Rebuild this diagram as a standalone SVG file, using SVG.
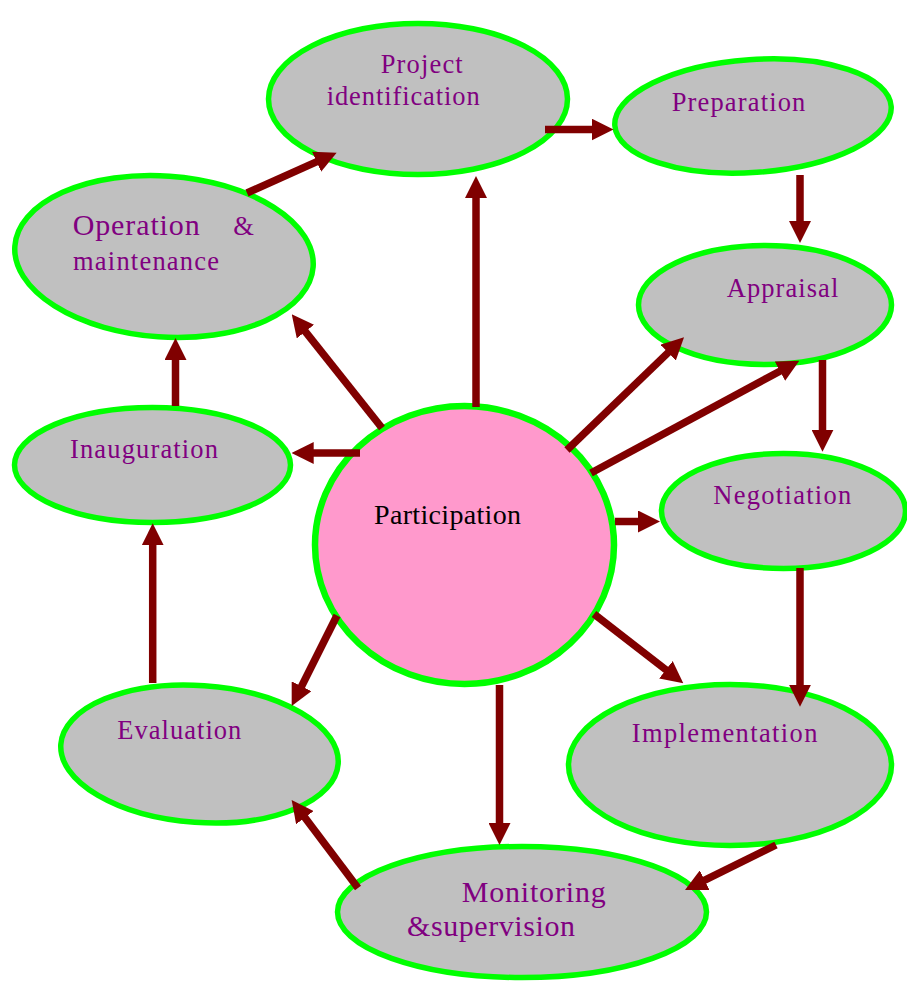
<svg xmlns="http://www.w3.org/2000/svg" width="907" height="984" viewBox="0 0 907 984">
<style>
.node{fill:#C0C0C0;stroke:#00FF00;stroke-width:5.5}
.hub{fill:#FF99CC;stroke:#00FF00;stroke-width:6.5}
.lbl{font-family:'Liberation Serif','DejaVu Serif','Times New Roman',serif;font-size:26.5px;fill:#800080}
.big{font-size:30px}
.hubl{font-family:'Liberation Serif','DejaVu Serif','Times New Roman',serif;font-size:28px;fill:#000000}
.arr{stroke:#800000;stroke-width:7.5;fill:none;marker-end:url(#ah)}
</style>
<defs>
<marker id="ah" markerUnits="userSpaceOnUse" markerWidth="22" markerHeight="22" viewBox="0 0 22 22" refX="1" refY="11" orient="auto">
<path d="M0,0 L22,11 L0,22 z" fill="#800000"/>
</marker>
</defs>
<rect width="907" height="984" fill="#FFFFFF"/>
<g id="project-identification">
<ellipse class="node" cx="418" cy="99" rx="149.5" ry="75.5"/>
<text class="lbl" x="380.7" y="73.3" textLength="82" lengthAdjust="spacing">Project</text>
<text class="lbl" x="326.7" y="105" textLength="153" lengthAdjust="spacing">identification</text>
</g>
<g id="preparation">
<ellipse class="node" cx="753" cy="116" rx="138.5" ry="56.5" transform="rotate(-4 753 116)"/>
<text class="lbl" x="671.7" y="111" textLength="133.6" lengthAdjust="spacing">Preparation</text>
</g>
<g id="operation-maintenance">
<ellipse class="node" cx="164" cy="256.5" rx="149.5" ry="80.5" transform="rotate(4 164 256.5)"/>
<text class="lbl big" x="72.7" y="235" textLength="127" lengthAdjust="spacing">Operation</text>
<text class="lbl" x="233.3" y="235">&amp;</text>
<text class="lbl" x="73" y="270" textLength="146" lengthAdjust="spacing">maintenance</text>
</g>
<g id="appraisal">
<ellipse class="node" cx="765" cy="305" rx="126.5" ry="59.5"/>
<text class="lbl" x="726.7" y="296.7" textLength="111.6" lengthAdjust="spacing">Appraisal</text>
</g>
<g id="inauguration">
<ellipse class="node" cx="152.5" cy="465" rx="138" ry="57.5"/>
<text class="lbl" x="70" y="458.3" textLength="148" lengthAdjust="spacing">Inauguration</text>
</g>
<g id="participation">
<ellipse class="hub" cx="464.5" cy="545" rx="149.5" ry="139"/>
<text class="hubl" x="374" y="524.3" textLength="147" lengthAdjust="spacing">Participation</text>
</g>
<g id="negotiation">
<ellipse class="node" cx="783.5" cy="511" rx="122" ry="57.5"/>
<text class="lbl" x="713.3" y="504" textLength="138" lengthAdjust="spacing">Negotiation</text>
</g>
<g id="implementation">
<ellipse class="node" cx="730" cy="765" rx="161.5" ry="80.5"/>
<text class="lbl" x="631.7" y="741.7" textLength="185.7" lengthAdjust="spacing">Implementation</text>
</g>
<g id="evaluation">
<ellipse class="node" cx="199.5" cy="754" rx="139" ry="68.5" transform="rotate(4 199.5 754)"/>
<text class="lbl" x="117.3" y="739" textLength="124" lengthAdjust="spacing">Evaluation</text>
</g>
<g id="monitoring-supervision">
<ellipse class="node" cx="522" cy="912" rx="184.5" ry="65.5"/>
<text class="lbl big" x="461.7" y="901.7" textLength="144" lengthAdjust="spacing">Monitoring</text>
<text class="lbl big" x="407" y="936" textLength="168" lengthAdjust="spacing">&amp;supervision</text>
</g>
<g id="connectors">
<line class="arr" x1="247" y1="193" x2="317.5" y2="161.3"/>
<line class="arr" x1="545" y1="129.5" x2="592.5" y2="129.5"/>
<line class="arr" x1="800" y1="175" x2="800" y2="222"/>
<line class="arr" x1="822.5" y1="360" x2="822.5" y2="430.7"/>
<line class="arr" x1="800" y1="568" x2="800" y2="685.7"/>
<line class="arr" x1="776" y1="845" x2="703.8" y2="880.7"/>
<line class="arr" x1="358" y1="888" x2="304.3" y2="816.8"/>
<line class="arr" x1="152.7" y1="683" x2="152.7" y2="544.3"/>
<line class="arr" x1="175.5" y1="406" x2="175.5" y2="359"/>
<line class="arr" x1="476" y1="407" x2="476" y2="197"/>
<line class="arr" x1="382" y1="428" x2="304.8" y2="330.8"/>
<line class="arr" x1="360" y1="453" x2="312.7" y2="453"/>
<line class="arr" x1="567" y1="450" x2="668.9" y2="351.9"/>
<line class="arr" x1="591" y1="473" x2="780.8" y2="370.7"/>
<line class="arr" x1="615" y1="521.5" x2="639" y2="521.5"/>
<line class="arr" x1="594" y1="614" x2="666.7" y2="670.4"/>
<line class="arr" x1="499.5" y1="685" x2="499.5" y2="824"/>
<line class="arr" x1="337" y1="615.5" x2="301.1" y2="687.2"/>
</g>
</svg>
